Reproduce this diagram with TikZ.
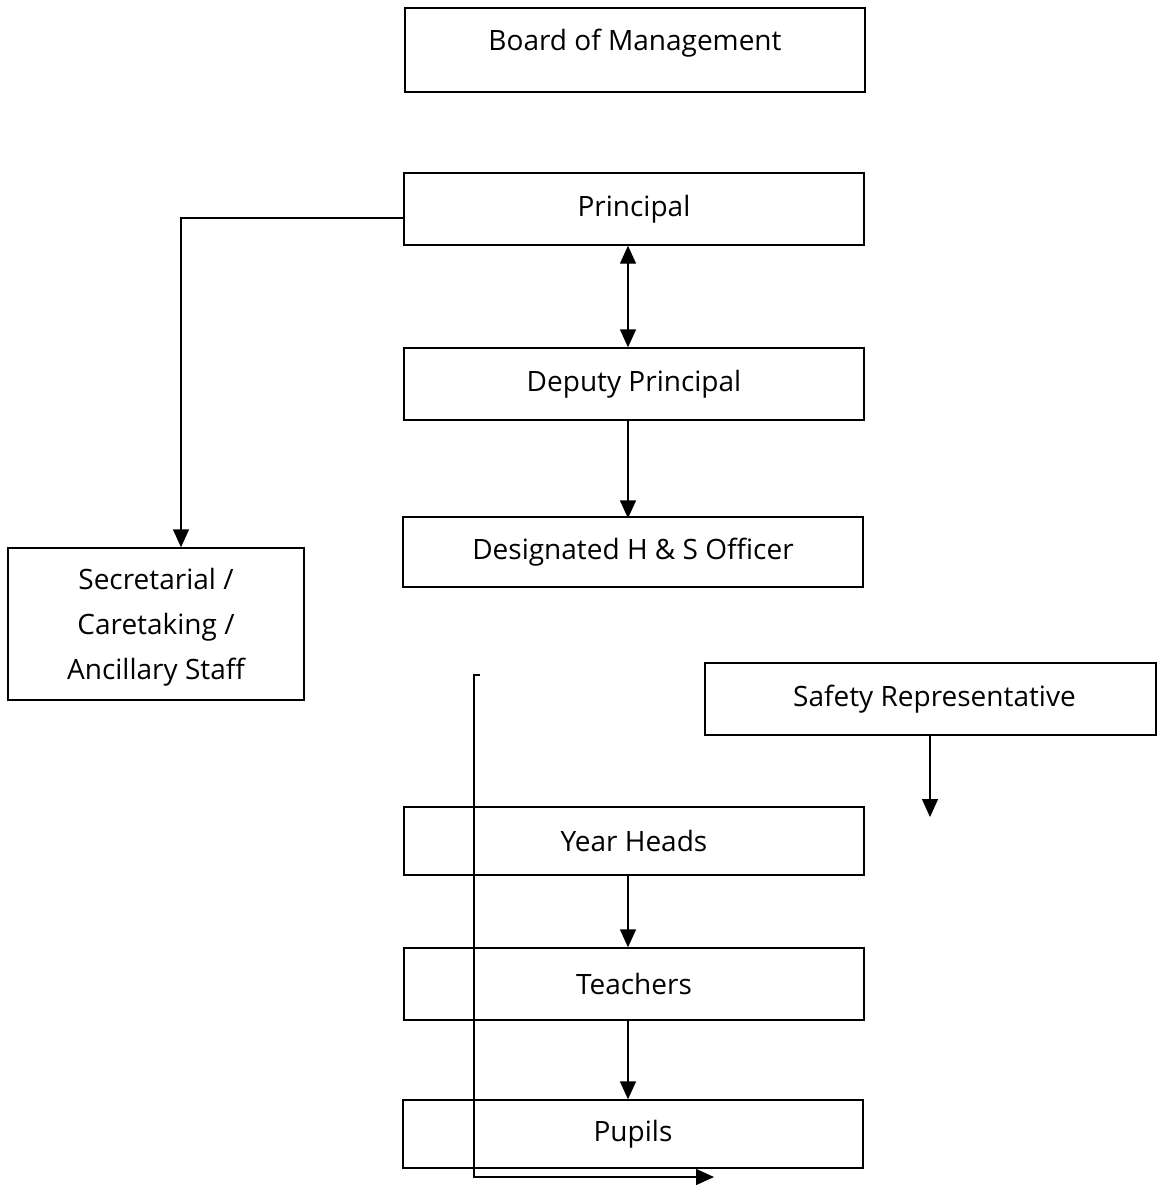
\documentclass[tikz,border=0pt]{standalone}
\usepackage{fontspec}
\setmainfont{Open Sans}
\usetikzlibrary{arrows.meta}
\begin{document}
\begin{tikzpicture}[x=1pt,y=-1pt,
  box/.style={draw,line width=1.4pt,inner sep=0pt,minimum width=460pt,minimum height=72pt,font=\fontsize{28}{45}\selectfont},
  conn/.style={line width=1.4pt},
  arr/.style={conn,-{Triangle[width=16pt,length=18pt]}},
  darr/.style={conn,{Triangle[width=16pt,length=18pt]}-{Triangle[width=16pt,length=18pt]}}]
\useasboundingbox (0,0) rectangle (1157,1187);
\node[box,minimum height=84pt,text height=20pt,text depth=19pt] (bom) at (635,50) {Board of Management};
\node[box] (pri) at (634,209) {Principal};
\node[box] (dep) at (634,384) {Deputy Principal};
\node[box,minimum height=70pt] (hs) at (633,552) {Designated H \& S Officer};
\node[box,minimum width=296pt,minimum height=152pt,align=center] (sec) at (156,624) {\rule{0pt}{28pt}Secretarial /\\Caretaking /\\Ancillary Staff};
\node[box,minimum width=451pt] (sr) at (930.5,699) {\hspace{8pt}Safety Representative};
\node[box,minimum height=68pt] (yh) at (634,841) {Year Heads};
\node[box] (tea) at (634,984) {Teachers};
\node[box,minimum height=68pt] (pup) at (633,1134) {Pupils};
% coordinates for connectors
\coordinate (sk) at (181,218);
\coordinate (sre) at (930,817);
\coordinate (vt) at (480,675);
\coordinate (vc) at (474,675);
\coordinate (vb) at (474,1177);
\coordinate (ve) at (714,1177);
\draw[arr] ([yshift=-9pt]pri.west) -- (sk) -- (sk |- sec.north);
\draw[darr] ([xshift=-6pt]pri.south) -- ([xshift=-6pt]dep.north);
\draw[arr] ([xshift=-6pt]dep.south) -- ([xshift=-5pt,yshift=-2pt]hs.north);
\draw[arr] (sre |- sr.south) -- (sre);
\draw[arr] ([xshift=-6pt]yh.south) -- ([xshift=-6pt]tea.north);
\draw[arr] ([xshift=-6pt]tea.south) -- ([xshift=-5pt]pup.north);
\draw[arr] (vt) -- (vc) -- (vb) -- (ve);
\end{tikzpicture}
\end{document}
